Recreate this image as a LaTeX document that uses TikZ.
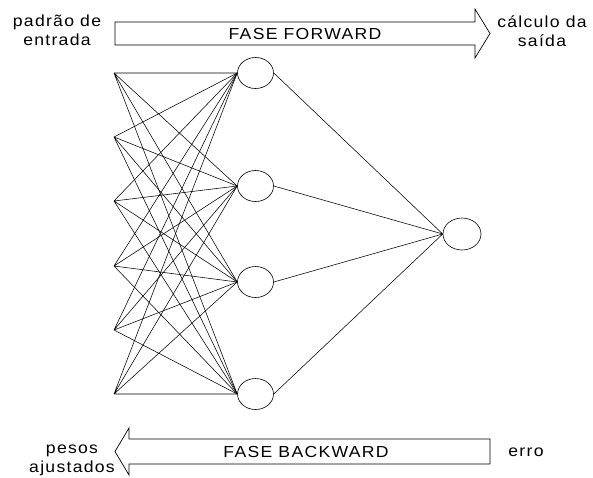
\documentclass[tikz,border=0pt]{standalone}
\usepackage{fontspec}
\newfontfamily\widesans[FakeStretch=1.1,LetterSpace=8]{Liberation Sans}
\usetikzlibrary{shapes.geometric}

\begin{document}
\begin{tikzpicture}[
  x=1pt,y=-1pt,
  neuron/.style={ellipse,draw,line width=0.6pt,minimum width=36pt,minimum height=31pt,inner sep=0pt},
  outn/.style  ={ellipse,draw,line width=0.6pt,minimum width=38pt,minimum height=32pt,inner sep=0pt},
  lbl/.style   ={inner sep=0pt,align=center,font=\widesans\fontsize{16}{19}\selectfont},
  syn/.style   ={line width=0.55pt},
  phase/.style ={draw,line width=0.7pt},
]
\useasboundingbox (0,0) rectangle (593,477);

% entradas
\coordinate (x1) at (114,73);
\coordinate (x2) at (114,137);
\coordinate (x3) at (114,201);
\coordinate (x4) at (114,266);
\coordinate (x5) at (114,330);
\coordinate (x6) at (114,394);

% camada oculta e saida
\node[neuron] (h1) at (255.5,73)  {};
\node[neuron] (h2) at (255.5,186) {};
\node[neuron] (h3) at (255.5,282) {};
\node[neuron] (h4) at (255.5,394) {};
\node[outn]   (o)  at (462,234)   {};

\draw[syn] (x1) -- (h1.west) (x1) -- (h2.west) (x1) -- (h3.west) (x1) -- (h4.west);
\draw[syn] (x2) -- (h1.west) (x2) -- (h2.west) (x2) -- (h3.west) (x2) -- (h4.west);
\draw[syn] (x3) -- (h1.west) (x3) -- (h2.west) (x3) -- (h3.west) (x3) -- (h4.west);
\draw[syn] (x4) -- (h1.west) (x4) -- (h2.west) (x4) -- (h3.west) (x4) -- (h4.west);
\draw[syn] (x5) -- (h1.west) (x5) -- (h2.west) (x5) -- (h3.west) (x5) -- (h4.west);
\draw[syn] (x6) -- (h1.west) (x6) -- (h2.west) (x6) -- (h3.west) (x6) -- (h4.west);

\draw[syn] (h1.east) -- (o.west) (h2.east) -- (o.west) (h3.east) -- (o.west) (h4.east) -- (o.west);

% setas das fases
\draw[phase] (115,22) -- (475,22) -- (475,9) -- (490,33.5) -- (475,58) -- (475,45) -- (115,45) -- cycle;
\draw[phase] (490,439) -- (129,439) -- (129,428) -- (115,451.5) -- (129,475) -- (129,464) -- (490,464) -- cycle;

\node[lbl] (fw) at (305,33.5)  {FASE FORWARD};
\node[lbl] (bw) at (306,451.5) {FASE BACKWARD};
\node[lbl] (pe) at (57,30.7)   {padrão de\\entrada};
\node[lbl] (cs) at (542,30.7)  {cálculo da\\saída};
\node[lbl] (pa) at (72,460.5)  {pesos\\ajustados};
\node[lbl] (er) at (526,452)   {erro};
\end{tikzpicture}
\end{document}
